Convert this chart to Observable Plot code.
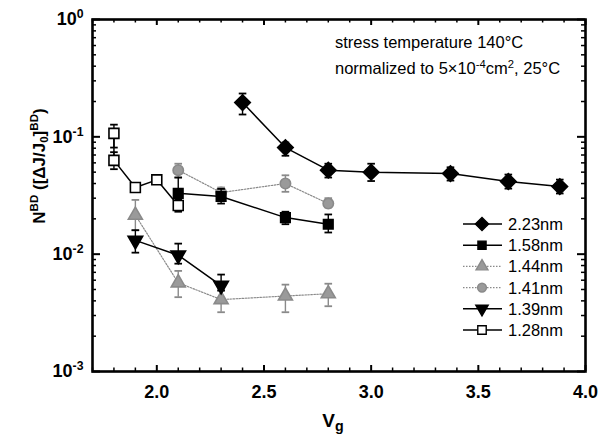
<!DOCTYPE html>
<html>
<head>
<meta charset="utf-8">
<script src="https://cdn.jsdelivr.net/npm/d3@7"></script>
<script src="https://cdn.jsdelivr.net/npm/@observablehq/plot@0.6"></script>
<style>
  html, body { margin: 0; padding: 0; background: #fff; }
  #chart { width: 609px; height: 440px; }
</style>
</head>
<body>
<div id="chart"></div>
<script>
// ---------- data ----------
const seriesNames = ["2.23nm", "1.58nm", "1.44nm", "1.41nm", "1.39nm", "1.28nm"];

const v223  = [2.4, 2.6, 2.8, 3.0, 3.37, 3.64, 3.88];
const n223  = [0.196, 0.081, 0.052, 0.050, 0.0486, 0.0416, 0.0377];
const lo223 = [0.155, 0.069, 0.045, 0.042, 0.0424, 0.0362, 0.0329];
const hi223 = [0.234, 0.0895, 0.059, 0.059, 0.055, 0.0477, 0.0432];

const v158  = [2.1, 2.3, 2.6, 2.8];
const n158  = [0.033, 0.031, 0.0205, 0.018];
const lo158 = [0.028, 0.027, 0.018, 0.0153];
const hi158 = [0.045, 0.036, 0.023, 0.0218];

const v144  = [1.9, 2.1, 2.3, 2.6, 2.8];
const n144  = [0.0215, 0.0057, 0.0041, 0.0044, 0.0046];
const lo144 = [0.016, 0.0043, 0.0032, 0.0032, 0.0036];
const hi144 = [0.029, 0.0072, 0.0049, 0.0055, 0.0056];

const v141  = [2.1, 2.3, 2.6, 2.8];
const n141  = [0.052, 0.0335, 0.040, 0.027];
const lo141 = [0.045, 0.030, 0.034, 0.025];
const hi141 = [0.059, 0.037, 0.047, 0.030];

const v139  = [1.9, 2.1, 2.3];
const n139  = [0.0131, 0.0098, 0.0054];
const lo139 = [0.0103, 0.0083, 0.0049];
const hi139 = [0.016, 0.0123, 0.0067];

const v128  = [1.8, 1.8, 1.9, 2.0, 2.1];
const n128  = [0.107, 0.063, 0.037, 0.043, 0.026];
const lo128 = [0.081, 0.053, 0.034, 0.040, 0.023];
const hi128 = [0.127, 0.074, 0.040, 0.046, 0.029];

const xTicks = [2.0, 2.5, 3.0, 3.5, 4.0];
const yTicks = [1, 0.1, 0.01, 0.001];
const yTickLabels = ["10^{0}", "10^{-1}", "10^{-2}", "10^{-3}"];
const annotationLines = ["stress temperature 140°C", "normalized to 5×10^{-4}cm^{2}, 25°C"];
const xLabel = "V_{g}";
const yLabel = "N^{BD} ([ΔJ/J_{0}]^{BD})";

// ---------- styles ----------
const styles = {
  "2.23nm": {symbol: "square", rotate: 45, r: 6.2, fill: "#000", stroke: "#000", line: "#000", dash: null, lw: 1.5},
  "1.58nm": {symbol: "square", rotate: 0, r: 5.4, fill: "#000", stroke: "#000", line: "#000", dash: null, lw: 1.5},
  "1.44nm": {symbol: "triangle", rotate: 0, r: 5.2, fill: "#9a9a9a", stroke: "#8a8a8a", line: "#8a8a8a", dash: "1.5,1.5", lw: 1.2},
  "1.41nm": {symbol: "circle", rotate: 0, r: 5.2, fill: "#9a9a9a", stroke: "#8a8a8a", line: "#8a8a8a", dash: "1.5,1.5", lw: 1.2},
  "1.39nm": {symbol: "triangle", rotate: 180, r: 5.4, fill: "#000", stroke: "#000", line: "#000", dash: null, lw: 1.5},
  "1.28nm": {symbol: "square", rotate: 0, r: 5.6, fill: "#fff", stroke: "#000", line: "#000", dash: null, lw: 1.5}
};

const raw = {
  "2.23nm": [v223, n223, lo223, hi223],
  "1.58nm": [v158, n158, lo158, hi158],
  "1.44nm": [v144, n144, lo144, hi144],
  "1.41nm": [v141, n141, lo141, hi141],
  "1.39nm": [v139, n139, lo139, hi139],
  "1.28nm": [v128, n128, lo128, hi128]
};

const W = 609, H = 440;
const M = {top: 19, right: 24, bottom: 69, left: 92};
const fw = W - M.left - M.right, fh = H - M.top - M.bottom;

// custom cap symbol (horizontal bar)
const capSymbol = {
  draw(ctx, size) {
    const r = Math.sqrt(size / Math.PI);
    ctx.moveTo(-r, 0); ctx.lineTo(r, 0);
  }
};

const marks = [];
const order = ["1.44nm", "1.41nm", "2.23nm", "1.58nm", "1.39nm", "1.28nm"];
for (const name of order) {
  const [xs, ys, los, his] = raw[name];
  const rows = xs.map((x, i) => ({x, y: ys[i], lo: los[i], hi: his[i]}));
  const s = styles[name];
  marks.push(Plot.line(rows, {x: "x", y: "y", stroke: s.line, strokeWidth: s.lw, strokeDasharray: s.dash}));
  marks.push(Plot.ruleX(rows, {x: "x", y1: "lo", y2: "hi", stroke: s.stroke, strokeWidth: 1.4}));
  marks.push(Plot.dot(rows, {x: "x", y: "lo", symbol: capSymbol, r: 3.8, fill: "none", stroke: s.stroke, strokeWidth: 1.8}));
  marks.push(Plot.dot(rows, {x: "x", y: "hi", symbol: capSymbol, r: 3.8, fill: "none", stroke: s.stroke, strokeWidth: 1.8}));
  marks.push(Plot.dot(rows, {x: "x", y: "y", symbol: s.symbol, rotate: s.rotate, r: s.r, fill: s.fill, stroke: s.stroke, strokeWidth: 1.6}));
}

const xMinor = d3.range(17, 41).map(d => d / 10).filter(d => !xTicks.some(t => Math.abs(t - d) < 1e-9));
const yMinor = [];
for (const dec of [0.001, 0.01, 0.1]) for (let k = 2; k <= 9; k++) yMinor.push(dec * k);

const yLabelMap = new Map(yTicks.map((t, i) => [t, yTickLabels[i]]));

const chart = Plot.plot({
  width: W, height: H,
  marginTop: M.top, marginRight: M.right, marginBottom: M.bottom, marginLeft: M.left,
  style: {fontFamily: "'Liberation Sans', Arial, Helvetica, sans-serif", color: "#000", background: "#fff", overflow: "visible"},
  x: {domain: [1.7, 4.0]},
  y: {type: "log", domain: [0.001, 1]},
  marks: [
    Plot.axisX({ticks: xTicks, tickFormat: d3.format(".1f"), tickSize: 0, tickPadding: 14, fontSize: 18, fontWeight: "bold", label: null}),
    Plot.axisY({ticks: yTicks, tickFormat: d => yLabelMap.get(d) ?? "", tickSize: 0, tickPadding: 9, fontSize: 18, fontWeight: "bold", label: null}),
    Plot.ruleX(xTicks, {x: d => d, insetTop: fh - 6, strokeWidth: 2}),
    Plot.ruleX(xTicks, {x: d => d, insetBottom: fh - 6, strokeWidth: 2}),
    Plot.ruleX(xMinor, {x: d => d, insetTop: fh - 3.5, strokeWidth: 1.5}),
    Plot.ruleX(xMinor, {x: d => d, insetBottom: fh - 3.5, strokeWidth: 1.5}),
    Plot.ruleY(yTicks, {y: d => d, insetRight: fw - 8, strokeWidth: 2}),
    Plot.ruleY(yTicks, {y: d => d, insetLeft: fw - 8, strokeWidth: 2}),
    Plot.ruleY(yMinor, {y: d => d, insetRight: fw - 4, strokeWidth: 1.5}),
    Plot.ruleY(yMinor, {y: d => d, insetLeft: fw - 4, strokeWidth: 1.5}),
    ...marks,
    Plot.frame({stroke: "#000", strokeWidth: 2.6})
  ]
});

document.getElementById("chart").appendChild(chart);
const svg = d3.select(chart);

function setRich(textSel, str, subScale = 0.68) {
  const el = textSel.node();
  while (el.firstChild) el.removeChild(el.firstChild);
  const re = /(\^|_)\{([^}]*)\}/g;
  let last = 0, m;
  const parts = [];
  while ((m = re.exec(str))) {
    if (m.index > last) parts.push({t: str.slice(last, m.index), k: "n"});
    parts.push({t: m[2], k: m[1] === "^" ? "sup" : "sub"});
    last = re.lastIndex;
  }
  if (last < str.length) parts.push({t: str.slice(last), k: "n"});
  for (const p of parts) {
    const ts = textSel.append("tspan").text(p.t);
    if (p.k === "sup") ts.attr("baseline-shift", "55%").attr("font-size", (subScale * 100) + "%");
    if (p.k === "sub") ts.attr("baseline-shift", "-28%").attr("font-size", (subScale * 100) + "%");
  }
}

svg.selectAll("text").each(function () {
  const s = d3.select(this);
  const t = s.text();
  if (t.includes("^{") || t.includes("_{")) setRich(s, t);
});

const font = "'Liberation Sans', Arial, Helvetica, sans-serif";

const yl = svg.append("text")
  .attr("transform", "translate(45,166) rotate(-90)")
  .attr("text-anchor", "middle")
  .attr("font-family", font).attr("font-size", 17).attr("font-weight", "bold").attr("fill", "#000");
setRich(yl, yLabel);

const xl = svg.append("text")
  .attr("x", 333).attr("y", 427)
  .attr("text-anchor", "middle")
  .attr("font-family", font).attr("font-size", 19).attr("font-weight", "bold").attr("fill", "#000");
setRich(xl, xLabel, 0.75);

annotationLines.forEach((line, i) => {
  const t = svg.append("text")
    .attr("x", 335).attr("y", 48 + i * 26)
    .attr("text-anchor", "start")
    .attr("font-family", font).attr("font-size", 16.5).attr("fill", "#000");
  setRich(t, line);
});

const lg = svg.append("g");
const symMap = {square: d3.symbolSquare, triangle: d3.symbolTriangle, circle: d3.symbolCircle};
seriesNames.forEach((name, i) => {
  const s = styles[name];
  const cy = 224 + i * 21.2;
  lg.append("line").attr("x1", 463).attr("x2", 502).attr("y1", cy).attr("y2", cy)
    .attr("stroke", s.line).attr("stroke-width", s.lw).attr("stroke-dasharray", s.dash);
  const r = s.r * 0.85;
  lg.append("path")
    .attr("d", d3.symbol(symMap[s.symbol], Math.PI * r * r)())
    .attr("transform", `translate(482,${cy}) rotate(${s.rotate})`)
    .attr("fill", s.fill).attr("stroke", s.stroke).attr("stroke-width", 1.4);
  lg.append("text").attr("x", 508).attr("y", cy + 6)
    .attr("text-anchor", "start")
    .attr("font-family", font).attr("font-size", 16.5).attr("fill", "#000").text(name);
});
</script>
</body>
</html>
